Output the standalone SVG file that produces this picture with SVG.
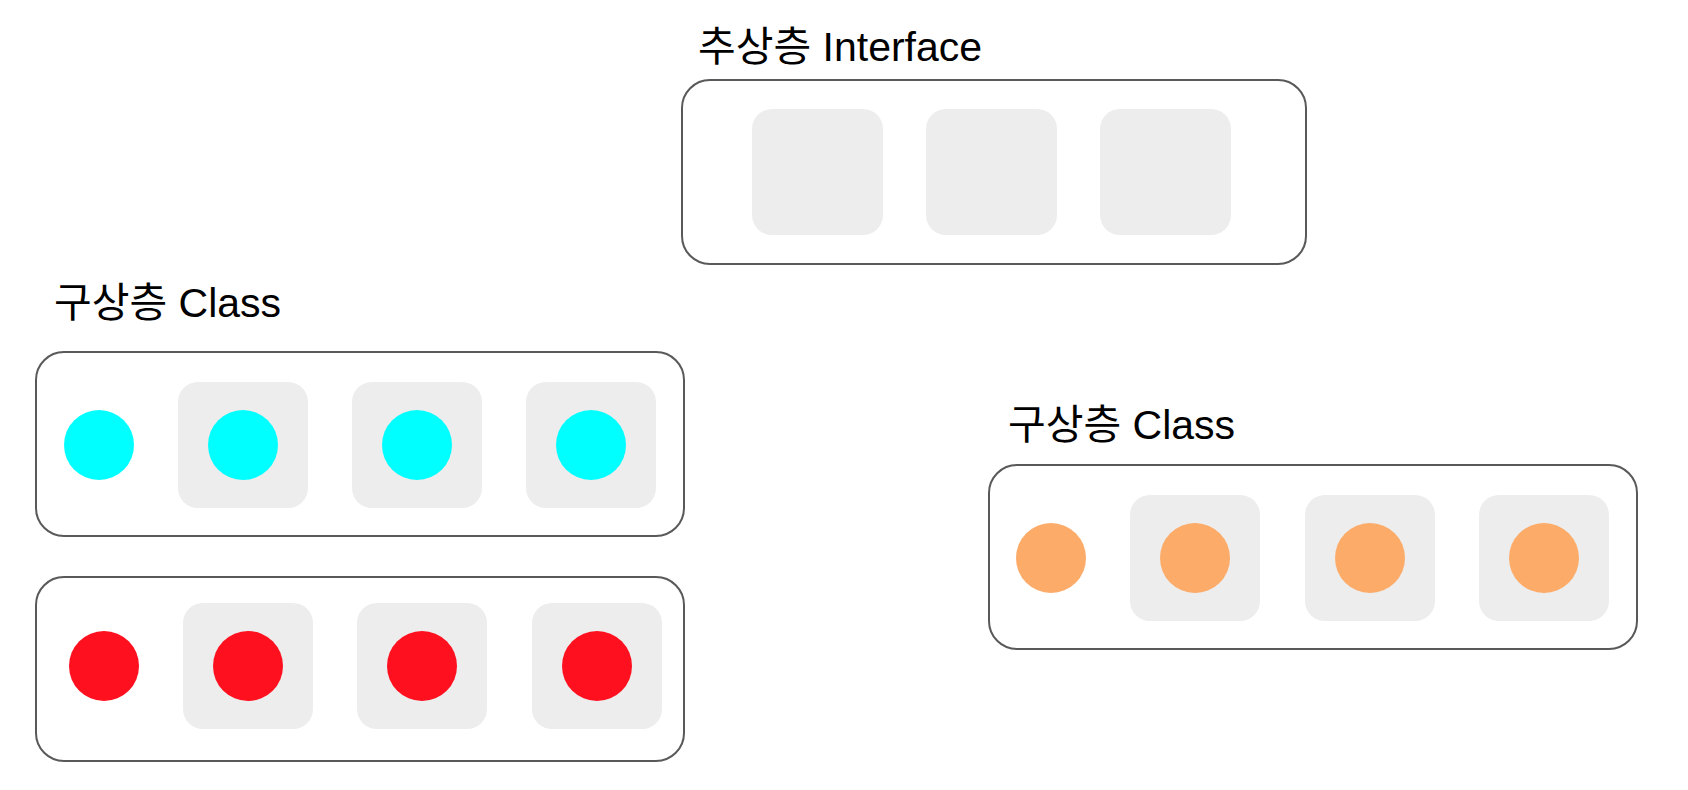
<svg xmlns="http://www.w3.org/2000/svg" width="1688" height="790" viewBox="0 0 1688 790">
<style>
.bg{fill:#ffffff}
.box{fill:#ffffff;stroke:#595959;stroke-width:2}
.sq{fill:#ededed}
.lbl{font-family:"Liberation Sans","Noto Sans CJK KR",sans-serif;font-size:41px;fill:#000000}
.cy{fill:#00ffff}
.rd{fill:#ff101f}
.or{fill:#fcab69}
</style>
<rect class="bg" x="0" y="0" width="1688" height="790"/>
<g id="interface">
<text class="lbl" x="698" y="61">추상층 Interface</text>
<rect class="box" x="682" y="80" width="624" height="184" rx="28"/>
<rect class="sq" x="752" y="109" width="131" height="126" rx="20"/>
<rect class="sq" x="926" y="109" width="131" height="126" rx="20"/>
<rect class="sq" x="1100" y="109" width="131" height="126" rx="20"/>
</g>
<g id="class-cyan">
<text class="lbl" x="54" y="317">구상층 Class</text>
<rect class="box" x="36" y="352" width="648" height="184" rx="28"/>
<circle class="cy" cx="99" cy="445" r="35"/>
<rect class="sq" x="178" y="382" width="130" height="126" rx="20"/>
<circle class="cy" cx="243" cy="445" r="35"/>
<rect class="sq" x="352" y="382" width="130" height="126" rx="20"/>
<circle class="cy" cx="417" cy="445" r="35"/>
<rect class="sq" x="526" y="382" width="130" height="126" rx="20"/>
<circle class="cy" cx="591" cy="445" r="35"/>
</g>
<g id="class-red">
<rect class="box" x="36" y="577" width="648" height="184" rx="28"/>
<circle class="rd" cx="104" cy="666" r="35"/>
<rect class="sq" x="183" y="603" width="130" height="126" rx="20"/>
<circle class="rd" cx="248" cy="666" r="35"/>
<rect class="sq" x="357" y="603" width="130" height="126" rx="20"/>
<circle class="rd" cx="422" cy="666" r="35"/>
<rect class="sq" x="532" y="603" width="130" height="126" rx="20"/>
<circle class="rd" cx="597" cy="666" r="35"/>
</g>
<g id="class-orange">
<text class="lbl" x="1008" y="439">구상층 Class</text>
<rect class="box" x="989" y="465" width="648" height="184" rx="28"/>
<circle class="or" cx="1051" cy="558" r="35"/>
<rect class="sq" x="1130" y="495" width="130" height="126" rx="20"/>
<circle class="or" cx="1195" cy="558" r="35"/>
<rect class="sq" x="1305" y="495" width="130" height="126" rx="20"/>
<circle class="or" cx="1370" cy="558" r="35"/>
<rect class="sq" x="1479" y="495" width="130" height="126" rx="20"/>
<circle class="or" cx="1544" cy="558" r="35"/>
</g>
<g id="connectors"></g>
</svg>
